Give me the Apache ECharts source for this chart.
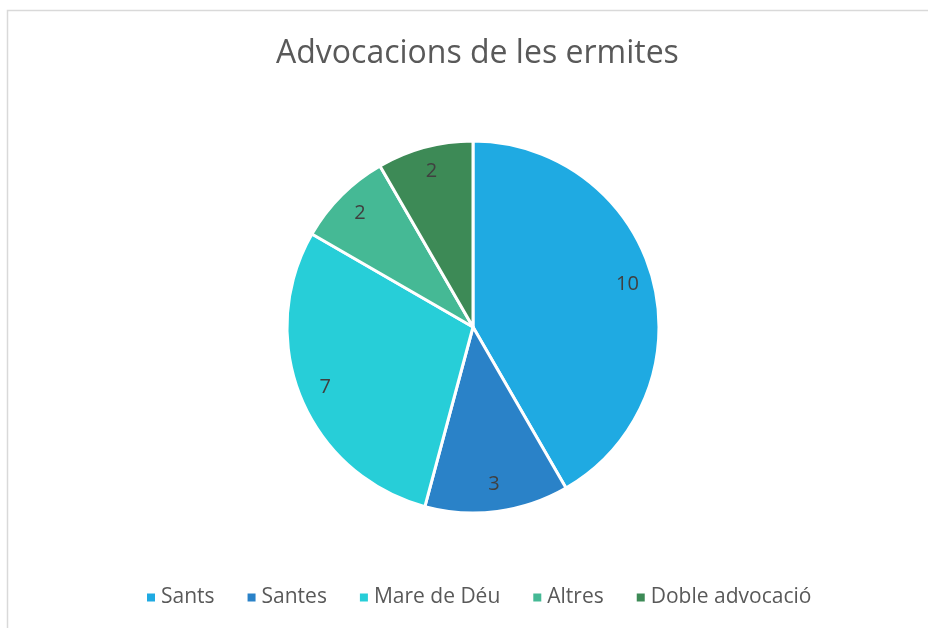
<!DOCTYPE html>
<html>
<head>
<meta charset="utf-8">
<script src="https://cdn.jsdelivr.net/npm/echarts@6/dist/echarts.min.js"></script>
<style>
    html, body { margin: 0; padding: 0; background: #fff; }
    #chart { width: 928px; height: 628px; }
</style>
</head>
<body>
<div id="chart"></div>
<script>
    const categories = ['Sants', 'Santes', 'Mare de Déu', 'Altres', 'Doble advocació'];
    const values = [10, 3, 7, 2, 2];
    const colors = ['#1FAAE2', '#2A82C8', '#27CED8', '#45B995', '#3D8A56'];

    const font = '"Open Sans", "Noto Sans", sans-serif';
    const pieData = categories.map((name, i) => ({
        name: name,
        value: values[i],
        itemStyle: {color: colors[i]}
    }));

    const chart = echarts.init(document.getElementById('chart'));
    chart.setOption({
        animation: false,
        title: {
            text: 'Advocacions de les ermites',
            left: 271,
            top: 33,
            textStyle: {fontFamily: font, fontSize: 32, fontWeight: 'normal', color: '#595959'}
        },
        legend: {
            bottom: 15,
            left: 140,
            icon: 'rect',
            itemWidth: 10,
            itemHeight: 10,
            itemGap: 31,
            data: categories,
            textStyle: {fontFamily: font, fontSize: 21, color: '#595959'}
        },
        graphic: [{
            type: 'rect',
            shape: {x: 7.5, y: 10.5, width: 940, height: 640},
            style: {fill: 'none', stroke: '#D9D9D9', lineWidth: 1.5},
            silent: true
        }],
        series: [
            {
                type: 'pie',
                center: [473, 327],
                radius: 186,
                startAngle: 90,
                clockwise: true,
                data: pieData,
                itemStyle: {borderColor: '#fff', borderWidth: 3},
                label: {show: false},
                labelLine: {show: false},
                emphasis: {disabled: true}
            },
            {
                // label ring only, so labels sit near the outer edge like in the reference
                type: 'pie',
                center: [473, 326],
                radius: [128, 186],
                startAngle: 90,
                clockwise: true,
                silent: true,
                data: categories.map((name, i) => ({
                    name: name,
                    value: values[i],
                    itemStyle: {color: 'rgba(0,0,0,0)'}
                })),
                itemStyle: {borderWidth: 0},
                label: {
                    show: true,
                    position: 'inside',
                    formatter: '{c}',
                    fontFamily: font,
                    fontSize: 20,
                    color: '#404040'
                },
                labelLine: {show: false},
                emphasis: {disabled: true}
            }
        ]
    });
</script>
</body>
</html>
